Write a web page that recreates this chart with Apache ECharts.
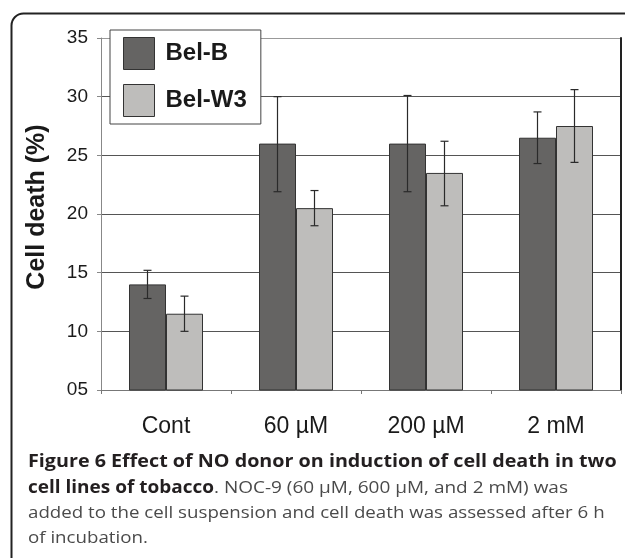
<!DOCTYPE html>
<html>
<head>
<meta charset="utf-8">
<script src="https://cdn.jsdelivr.net/npm/echarts@6/dist/echarts.min.js"></script>
<style>
html,body{margin:0;padding:0;background:#fff;}
#chart{width:625px;height:558px;}
</style>
</head>
<body>
<div id="chart"></div>
<script>
const categories = ['Cont', '60 µM', '200 µM', '2 mM'];
const seriesNames = ['Bel-B', 'Bel-W3'];
const belB = [14, 26, 26, 26.5];
const belBLow = [12.8, 21.9, 21.9, 24.3];
const belBHigh = [15.2, 30.0, 30.1, 28.7];
const belW3 = [11.5, 20.5, 23.5, 27.5];
const belW3Low = [10.0, 19.0, 20.7, 24.4];
const belW3High = [13.0, 22.0, 26.2, 30.6];
const yTicks = ['05', '10', '15', '20', '25', '30', '35'];
const captionLines = [
  'Figure 6 Effect of NO donor on induction of cell death in two',
  '{b|cell lines of tobacco}{r|. NOC-9 (60 µM, 600 µM, and 2 mM) was}',
  'added to the cell suspension and cell death was assessed after 6 h',
  'of incubation.'
];

const BAR_W = 37;

function errData(low, high) {
  return categories.map((c, i) => [i, low[i], high[i]]);
}
function errSeries(name, low, high, offset) {
  return {
    type: 'custom',
    name: name + ' err',
    data: errData(low, high),
    encode: { x: 0, y: [1, 2] },
    z: 5,
    silent: true,
    renderItem: function (params, api) {
      const i = api.value(0);
      const pLow = api.coord([i, api.value(1)]);
      const pHigh = api.coord([i, api.value(2)]);
      const x = pLow[0] + offset;
      const cap = 4;
      const st = { stroke: '#2a2a2a', lineWidth: 1.2 };
      return {
        type: 'group',
        children: [
          { type: 'line', shape: { x1: x, y1: pLow[1], x2: x, y2: pHigh[1] }, style: st },
          { type: 'line', shape: { x1: x - cap, y1: pLow[1], x2: x + cap, y2: pLow[1] }, style: st },
          { type: 'line', shape: { x1: x - cap, y1: pHigh[1], x2: x + cap, y2: pHigh[1] }, style: st }
        ]
      };
    }
  };
}

const boldFont = 'bold 17px "Open Sans"';
const regFont = '17px "Open Sans"';
const boldColor = '#231f20';
const regColor = '#4a4a4a';

const chart = echarts.init(document.getElementById('chart'));
const option = {
  backgroundColor: '#fff',
  animation: false,
  grid: { left: 101, right: 4, top: 38, bottom: 168 },
  legend: {
    data: seriesNames,
    orient: 'vertical',
    left: 110,
    top: 30,
    padding: [7, 14, 7, 13],
    itemWidth: 31,
    itemHeight: 32,
    itemGap: 14,
    backgroundColor: '#fff',
    borderColor: '#444',
    borderWidth: 1,
    icon: 'rect',
    itemStyle: { borderColor: '#333', borderWidth: 1 },
    textStyle: { fontFamily: 'Liberation Sans, Arial', fontWeight: 'bold', fontSize: 24, color: '#1a1a1a', padding: [0, 0, 0, 6] },
    z: 10
  },
  xAxis: {
    type: 'category',
    data: categories,
    axisLine: { lineStyle: { color: '#777', width: 1 } },
    axisTick: { show: true, length: 4, lineStyle: { color: '#777' } },
    axisLabel: { fontFamily: 'Liberation Sans, Arial', fontSize: 23, color: '#1a1a1a', margin: 25 },
    splitLine: { show: false }
  },
  yAxis: [{
    type: 'value',
    min: 5, max: 35, interval: 5,
    name: 'Cell death (%)',
    nameLocation: 'middle',
    nameGap: 51,
    nameRotate: 90,
    nameTextStyle: { fontFamily: 'Liberation Sans, Arial', fontWeight: 'bold', fontSize: 25, color: '#1a1a1a', padding: [0, 0, 0, 14] },
    axisLine: { show: true, lineStyle: { color: '#888' } },
    axisTick: { show: true, length: 4, lineStyle: { color: '#888' } },
    axisLabel: {
      fontFamily: 'Liberation Sans, Arial', fontSize: 19, color: '#1a1a1a', margin: 13,
      formatter: function (v) { return yTicks[Math.round((v - 5) / 5)]; }
    },
    splitLine: { show: true, lineStyle: { color: ['#555', '#555', '#555', '#555', '#555', '#555', '#999'], width: 1 } }
  }, {
    type: 'value',
    position: 'right',
    min: 5, max: 35, interval: 5,
    axisLine: { show: true, lineStyle: { color: '#222', width: 2 } },
    axisTick: { show: false },
    axisLabel: { show: false },
    splitLine: { show: false }
  }],
  series: [
    {
      name: 'Bel-B', type: 'bar', data: belB, barWidth: BAR_W, barGap: '0%',
      itemStyle: { color: '#656463', borderColor: '#333', borderWidth: 1 }, z: 3
    },
    {
      name: 'Bel-W3', type: 'bar', data: belW3, barWidth: BAR_W, barGap: '0%',
      itemStyle: { color: '#bebdbb', borderColor: '#333', borderWidth: 1 }, z: 3
    },
    errSeries('Bel-B', belBLow, belBHigh, -BAR_W / 2),
    errSeries('Bel-W3', belW3Low, belW3High, BAR_W / 2)
  ],
  graphic: [
    {
      type: 'rect', z: -1, silent: true,
      shape: { x: 11.5, y: 13.5, width: 800, height: 800, r: 12 },
      style: { fill: 'none', stroke: '#222', lineWidth: 2 }
    },
    {
      type: 'text', x: 28, y: 454, scaleX: 1.16,
      style: { text: captionLines[0], font: boldFont, fill: boldColor, verticalAlign: 'top' }
    },
    {
      type: 'text', x: 28, y: 480, scaleX: 1.117,
      style: {
        text: captionLines[1], verticalAlign: 'top',
        rich: {
          b: { font: boldFont, fill: boldColor },
          r: { font: regFont, fill: regColor }
        }
      }
    },
    {
      type: 'text', x: 28, y: 505, scaleX: 1.10,
      style: { text: captionLines[2], font: regFont, fill: regColor, verticalAlign: 'top' }
    },
    {
      type: 'text', x: 28, y: 530, scaleX: 1.10,
      style: { text: captionLines[3], font: regFont, fill: regColor, verticalAlign: 'top' }
    }
  ]
};
chart.setOption(option);
</script>
</body>
</html>
